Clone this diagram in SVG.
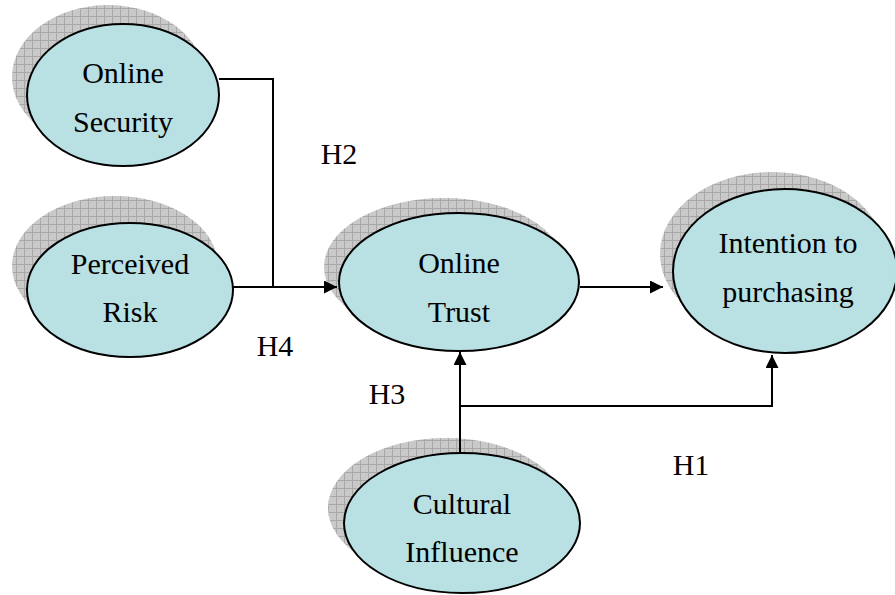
<svg xmlns="http://www.w3.org/2000/svg" width="895" height="595" viewBox="0 0 895 595">
<defs>
<pattern id="grid" width="8" height="8" patternUnits="userSpaceOnUse">
<rect width="8" height="8" fill="#c9c9c9"/>
<path d="M0 0.5H8M0.5 0V8" stroke="#a8a8a8" stroke-width="1"/>
</pattern>
<marker id="arr" viewBox="0 0 10 10" refX="10" refY="5" markerWidth="16" markerHeight="13" markerUnits="userSpaceOnUse" orient="auto">
<path d="M0 0L10 5L0 10Z" fill="#000"/>
</marker>
<style>
.sh{fill:url(#grid);stroke:none}
.el{fill:#b9e0e3;stroke:#000;stroke-width:2}
.t{font-family:"Liberation Serif","Times New Roman",serif;font-size:30px;fill:#000;text-anchor:middle}
.c{fill:none;stroke:#000;stroke-width:2}
</style>
</defs>
<rect width="895" height="595" fill="#fff"/>
<g id="online-security">
<ellipse class="sh" cx="108" cy="77" rx="96" ry="72"/>
<ellipse class="el" cx="123" cy="95" rx="96" ry="71"/>
<text class="t" x="123" y="83">Online</text>
<text class="t" x="123" y="132">Security</text>
</g>
<g id="perceived-risk">
<ellipse class="sh" cx="115" cy="266" rx="103" ry="70"/>
<ellipse class="el" cx="130" cy="290" rx="103" ry="67"/>
<text class="t" x="130" y="274">Perceived</text>
<text class="t" x="130" y="322">Risk</text>
</g>
<g id="online-trust">
<ellipse class="sh" cx="444" cy="267" rx="120" ry="69"/>
<ellipse class="el" cx="459" cy="282" rx="120" ry="69"/>
<text class="t" x="459" y="273">Online</text>
<text class="t" x="459" y="322">Trust</text>
</g>
<g id="intention">
<ellipse class="sh" cx="772" cy="254" rx="112" ry="82"/>
<ellipse class="el" cx="785" cy="271" rx="112" ry="82"/>
<text class="t" x="788" y="253">Intention to</text>
<text class="t" x="788" y="302">purchasing</text>
</g>
<g id="cultural-influence">
<ellipse class="sh" cx="446" cy="508" rx="118" ry="70"/>
<ellipse class="el" cx="462" cy="523" rx="118" ry="70"/>
<text class="t" x="462" y="514">Cultural</text>
<text class="t" x="462" y="562">Influence</text>
</g>
<g id="connectors">
<path class="c" d="M219 79H273V287"/>
<path class="c" d="M233 287H337" marker-end="url(#arr)"/>
<path class="c" d="M580 287H663" marker-end="url(#arr)"/>
<path class="c" d="M460 453V352" marker-end="url(#arr)"/>
<path class="c" d="M460 406H772V355" marker-end="url(#arr)"/>
</g>
<g id="labels">
<text class="t" x="339" y="164">H2</text>
<text class="t" x="275" y="356">H4</text>
<text class="t" x="387" y="404">H3</text>
<text class="t" x="691" y="475">H1</text>
</g>
</svg>
